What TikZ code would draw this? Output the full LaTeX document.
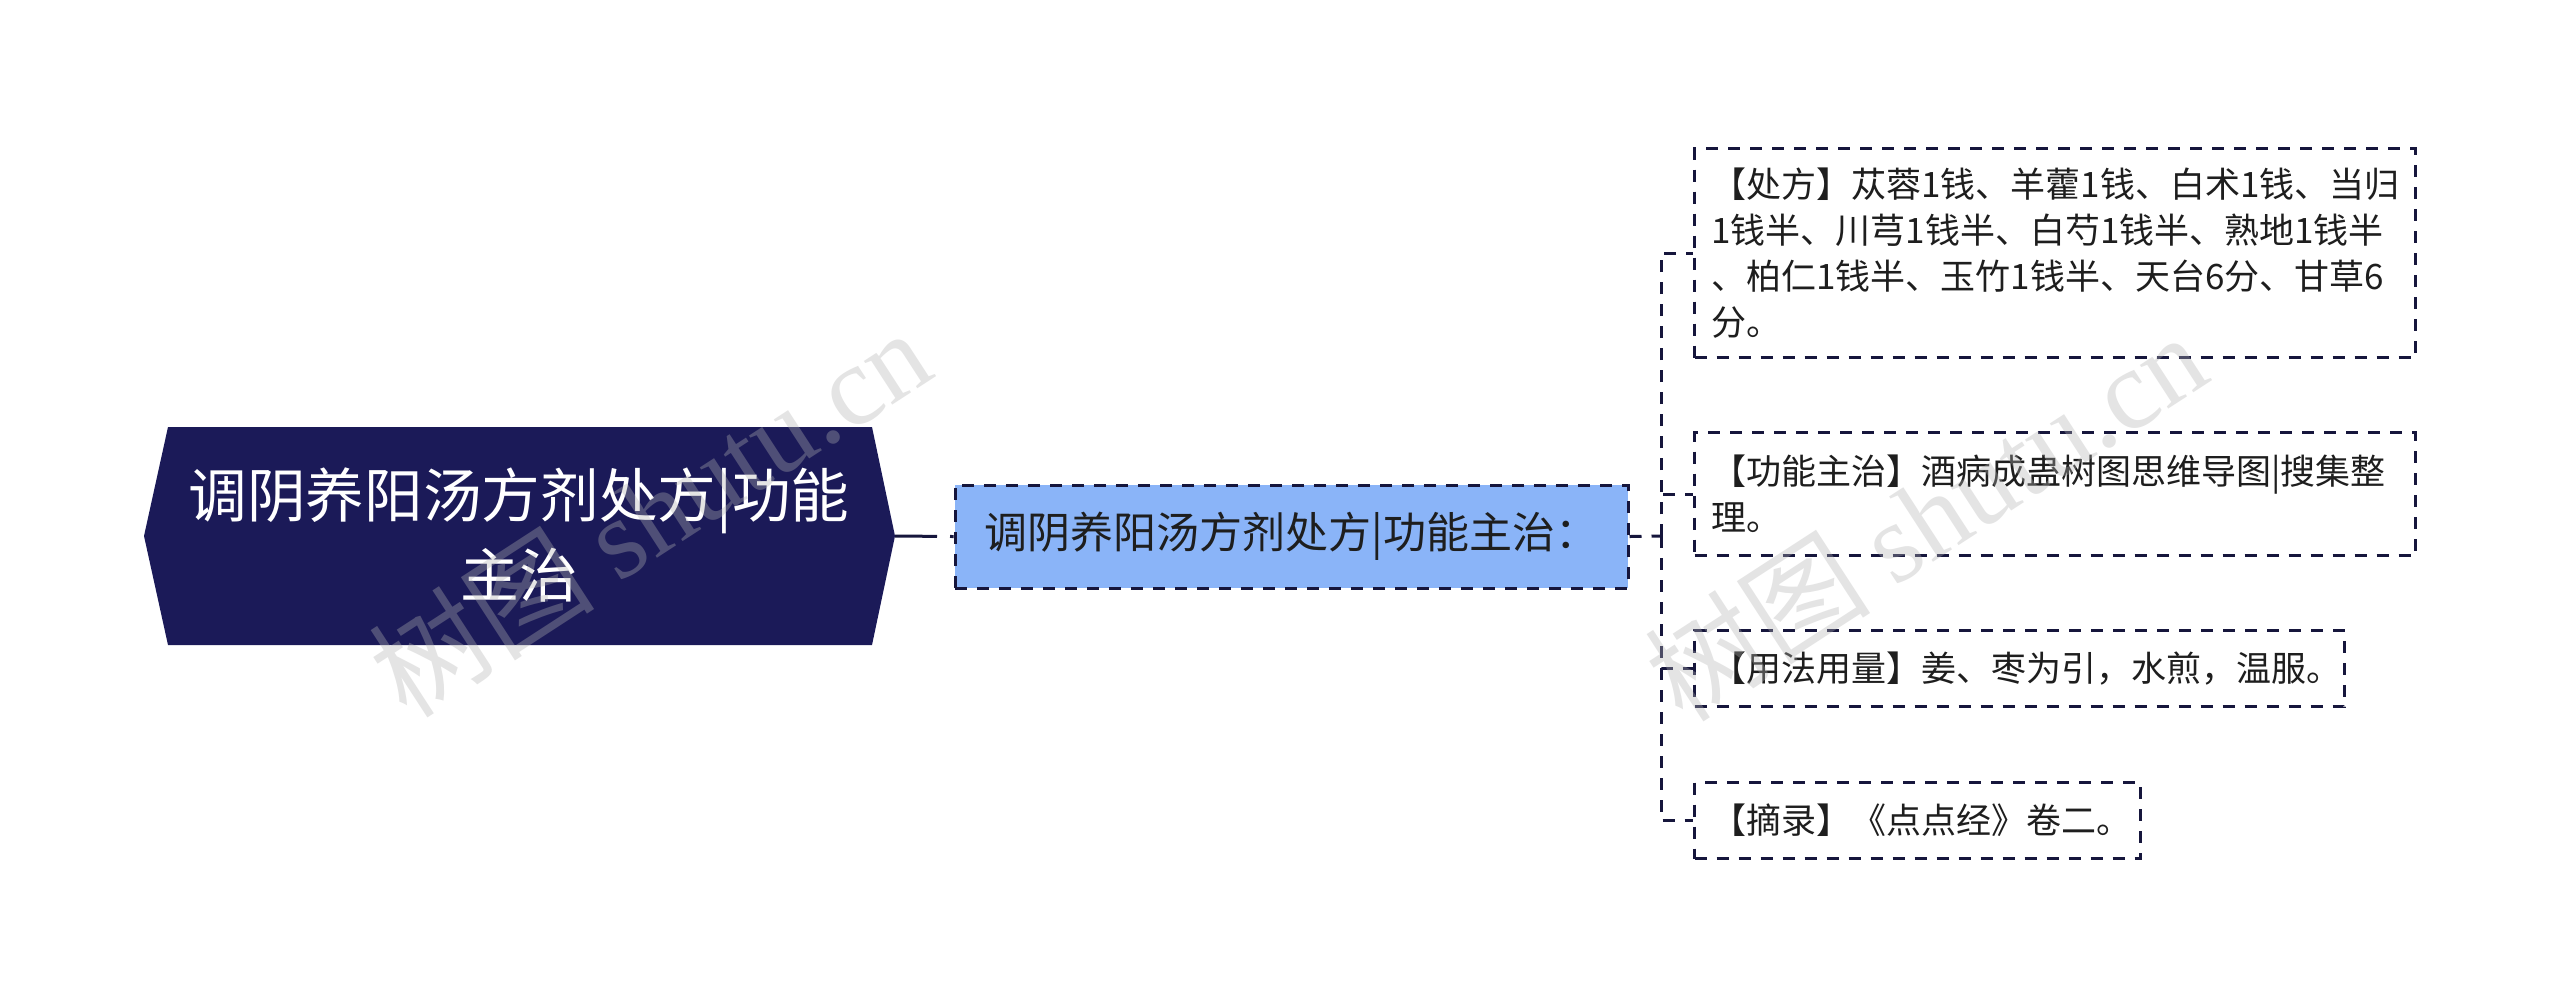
\documentclass[tikz,border=0pt]{standalone}
\usepackage{fontspec}
\setmainfont{Noto Sans CJK SC}
\newfontfamily\cjk{Noto Sans CJK SC}
\newfontfamily\wmserif{Liberation Serif}
\definecolor{navy}{RGB}{27,26,88}
\definecolor{edge}{RGB}{22,22,60}
\definecolor{midblue}{RGB}{138,180,248}
\definecolor{textc}{RGB}{30,30,30}
\begin{document}
\begin{tikzpicture}[x=0.3pt,y=-0.3pt]
\tikzset{
  conn/.style={draw=edge, line width=0.9pt, dash pattern=on 3.6pt off 3pt},
  leaf/.style={draw=edge, line width=0.9pt, dash pattern=on 3.6pt off 3pt,
    fill=white, anchor=north west, inner xsep=5pt, inner ysep=0pt,
    align=left, text=textc, font=\fontsize{10.5}{13.8}\selectfont},
  midbox/.style={draw=edge, line width=0.9pt, dash pattern=on 3.6pt off 3pt,
    fill=midblue, text=textc, minimum width=201.9pt, minimum height=30.9pt,
    inner sep=0pt, font=\fontsize{12.9}{16}\selectfont},
  roottext/.style={text=white, align=center, inner sep=0pt,
    font=\fontsize{17.6}{24}\selectfont},
  wm/.style={text=gray!60, opacity=0.35, rotate=33, inner sep=0pt,
    font=\fontsize{34}{40}\selectfont}
}
\useasboundingbox (0,0) rectangle (2560,1005);
\fill[white] (0,0) rectangle (2560,1005);

% root
\fill[navy] (168,427) -- (872,427) -- (895,536) -- (872,645) -- (168,645) -- (144,536) -- cycle;
\coordinate (rootE) at (895,536);
\node[roottext] (root) at (519,535) {调阴养阳汤方剂处方|功能\\主治};

% middle node
\node[midbox] (blue) at (1291.5,536.5) {调阴养阳汤方剂处方|功能主治：};

% leaves
\node[leaf, text width=206.3pt, minimum height=62.7pt] (b1) at (1693,147)
  {【处方】苁蓉1钱、羊藿1钱、白术1钱、当归\\1钱半、川芎1钱半、白芍1钱半、熟地1钱半\\、柏仁1钱半、玉竹1钱半、天台6分、甘草6\\分。};
\node[leaf, text width=206.3pt, minimum height=36.9pt] (b2) at (1693,431)
  {【功能主治】酒病成蛊树图思维导图|搜集整\\理。};
\node[leaf, text width=185pt, minimum height=22.8pt] (b3) at (1693,629)
  {【用法用量】姜、枣为引，水煎，温服。};
\node[leaf, text width=123.8pt, minimum height=22.8pt] (b4) at (1693,781)
  {【摘录】《点点经》卷二。};

% connectors
\draw[conn, dash pattern=on 12.6pt off 3.9pt on 3pt off 3pt] (rootE) -- (blue.west);
\coordinate (trunk) at (1661,536);
\draw[conn] (blue.east) -- (trunk);
\draw[conn] (trunk) |- (b1.west);
\draw[conn] (trunk) |- (b2.west);
\draw[conn] (trunk) |- (b3.west);
\draw[conn] (trunk) |- (b4.west);

% watermarks
\node[wm] (wm1) at (649,512) {\cjk 树图 \wmserif shutu.cn};
\node[wm] (wm2) at (1925,516) {\cjk 树图 \wmserif shutu.cn};
\end{tikzpicture}
\end{document}
